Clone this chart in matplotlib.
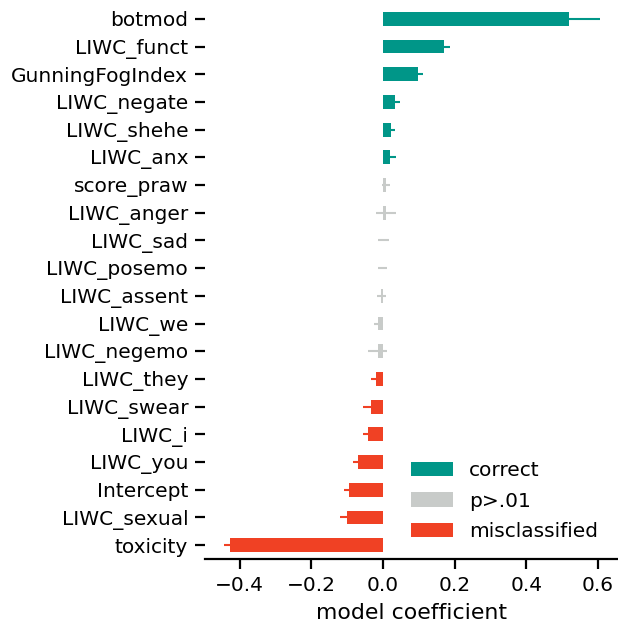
import matplotlib
matplotlib.use("Agg")
import matplotlib.pyplot as plt
from matplotlib.patches import Patch

features = ["toxicity", "LIWC_sexual", "Intercept", "LIWC_you", "LIWC_i", "LIWC_swear",
            "LIWC_they", "LIWC_negemo", "LIWC_we", "LIWC_assent", "LIWC_posemo", "LIWC_sad",
            "LIWC_anger", "score_praw", "LIWC_anx", "LIWC_shehe", "LIWC_negate",
            "GunningFogIndex", "LIWC_funct", "botmod"]
coefs = [-0.427, -0.102, -0.095, -0.069, -0.043, -0.035,
         -0.020, -0.015, -0.014, -0.005, -0.001, 0.001,
         0.008, 0.008, 0.020, 0.022, 0.034,
         0.098, 0.171, 0.519]
errors = [0.016, 0.018, 0.014, 0.014, 0.013, 0.021,
          0.013, 0.027, 0.011, 0.013, 0.013, 0.016,
          0.027, 0.012, 0.016, 0.012, 0.013,
          0.014, 0.015, 0.087]
groups = ["misclassified"] * 7 + ["p>.01"] * 7 + ["correct"] * 6
legend_labels = ["correct", "p>.01", "misclassified"]
palette = {"correct": "#009688", "p>.01": "#c8cbc9", "misclassified": "#f04124"}

fig = plt.figure(figsize=(6.18, 6.24), dpi=100)
ax = fig.add_axes([205 / 618, 65 / 624, 412 / 618, 554 / 624])

ypos = list(range(len(features)))
colors = [palette[g] for g in groups]
for y, c, e, col in zip(ypos, coefs, errors, colors):
    ax.errorbar(c, y, xerr=e, fmt="none", ecolor=col, elinewidth=1.5, capsize=0, zorder=1)
ax.barh(ypos, coefs, height=0.5, color=colors, zorder=2)

ax.set_yticks(ypos)
ax.set_yticklabels(features, fontsize=14.5)
ax.set_ylim(-0.5, len(features) - 0.5)
ax.set_xlim(-0.497, 0.653)
ax.set_xticks([-0.4, -0.2, 0.0, 0.2, 0.4, 0.6])
ax.set_xticklabels(["\u22120.4", "\u22120.2", "0.0", "0.2", "0.4", "0.6"], fontsize=14.5)
ax.set_xlabel("model coefficient", fontsize=15.8, labelpad=6)

for s in ["left", "right", "top"]:
    ax.spines[s].set_visible(False)
ax.spines["bottom"].set_linewidth(1.6)
ax.tick_params(axis="both", length=7.5, width=1.6, color="black")
ax.tick_params(axis="x", pad=4.6)
ax.tick_params(axis="y", pad=4.6)

handles = [Patch(facecolor=palette[l], label=l) for l in legend_labels]
ax.legend(handles=handles, loc="lower right", frameon=False, fontsize=14.5,
          handlelength=2.05, handleheight=0.72, labelspacing=0.56,
          handletextpad=0.8, bbox_to_anchor=(0.997, 0.0))

fig.savefig("out.png", dpi=100)
